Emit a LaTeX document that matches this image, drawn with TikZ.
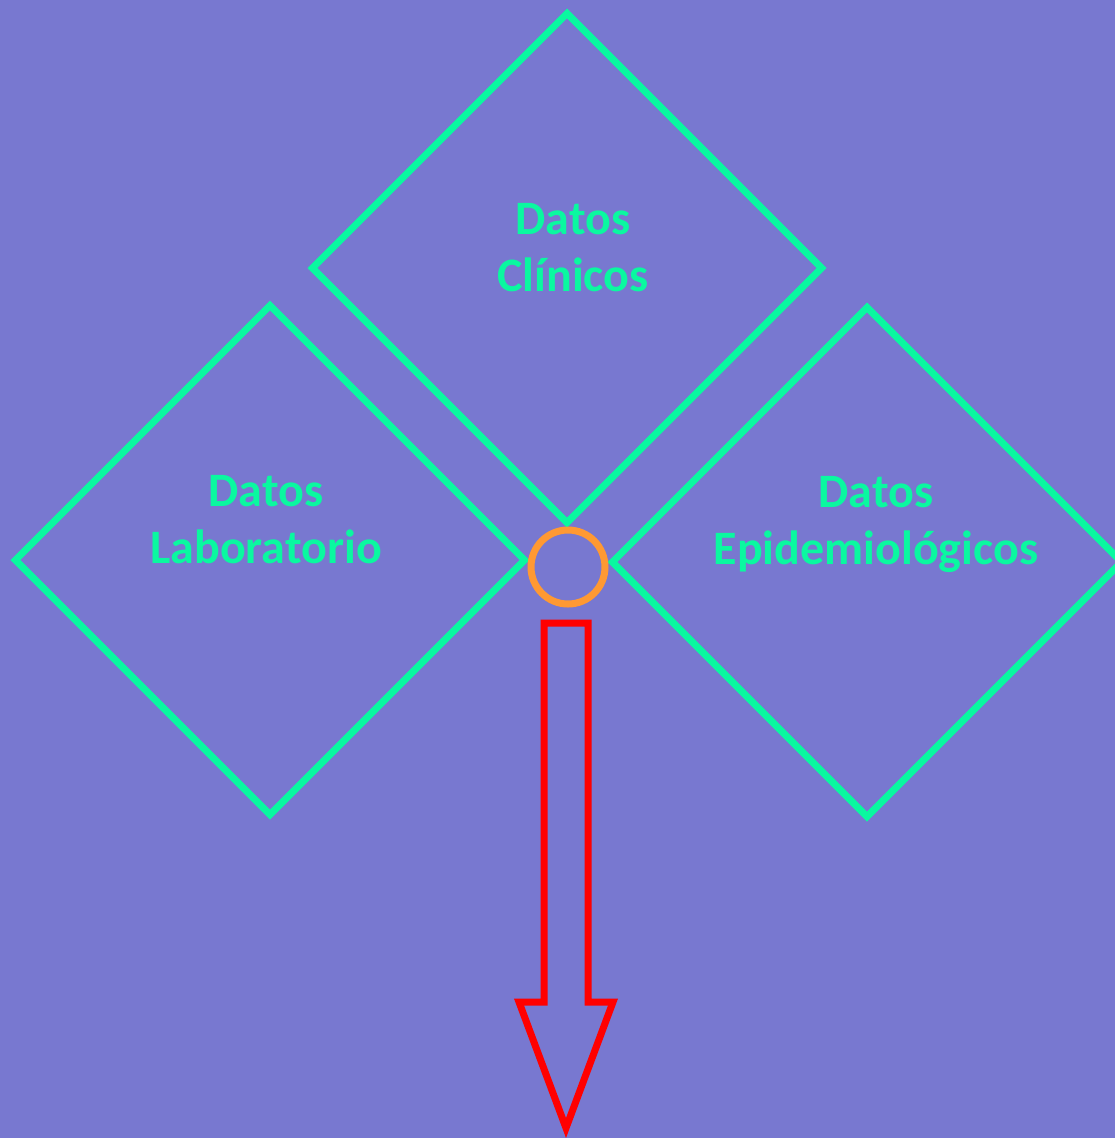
\documentclass[tikz,border=0pt]{standalone}
\usepackage{fontspec}
\setmainfont{Carlito}
\usetikzlibrary{shapes.geometric}
\definecolor{bg}{HTML}{7878D0}
\definecolor{grn}{HTML}{0AF8A0}
\definecolor{org}{HTML}{FF9933}
\definecolor{rd}{HTML}{FF0000}
\begin{document}
\begin{tikzpicture}[x=1pt,y=-1pt,
  dbox/.style={diamond,draw=grn,line width=7pt,minimum width=512pt,minimum height=512pt,aspect=1,inner sep=0pt},
  lbl/.style={text=grn,font=\fontsize{48}{57}\selectfont\bfseries,align=center,inner sep=0pt}]
\fill[bg] (0,0) rectangle (1115,1138);
\useasboundingbox (0,0) rectangle (1115,1138);
\node[dbox] (clin) at (567,268) {};
\node[dbox] (lab) at (270,560) {};
\node[dbox] (epi) at (867,562) {};
\node[lbl] (tclin) at (573,248) {Datos\\Clínicos};
\node[lbl] (tlab) at (266,520) {Datos\\Laboratorio};
\node[lbl] (tepi) at (876,524) {Datos\\Epidemiológicos};
\node[circle,draw=org,line width=7pt,minimum size=74pt,inner sep=0pt] (hub) at (568,567) {};
\coordinate (a1) at (544,623);
\coordinate (a2) at (588,623);
\coordinate (a3) at (588,1002);
\coordinate (a4) at (613,1002);
\coordinate (a5) at (566,1128);
\coordinate (a6) at (519,1002);
\coordinate (a7) at (544,1002);
\draw[rd,line width=7pt,line join=miter] (a1) -- (a2) -- (a3) -- (a4) -- (a5) -- (a6) -- (a7) -- cycle;
\end{tikzpicture}
\end{document}
